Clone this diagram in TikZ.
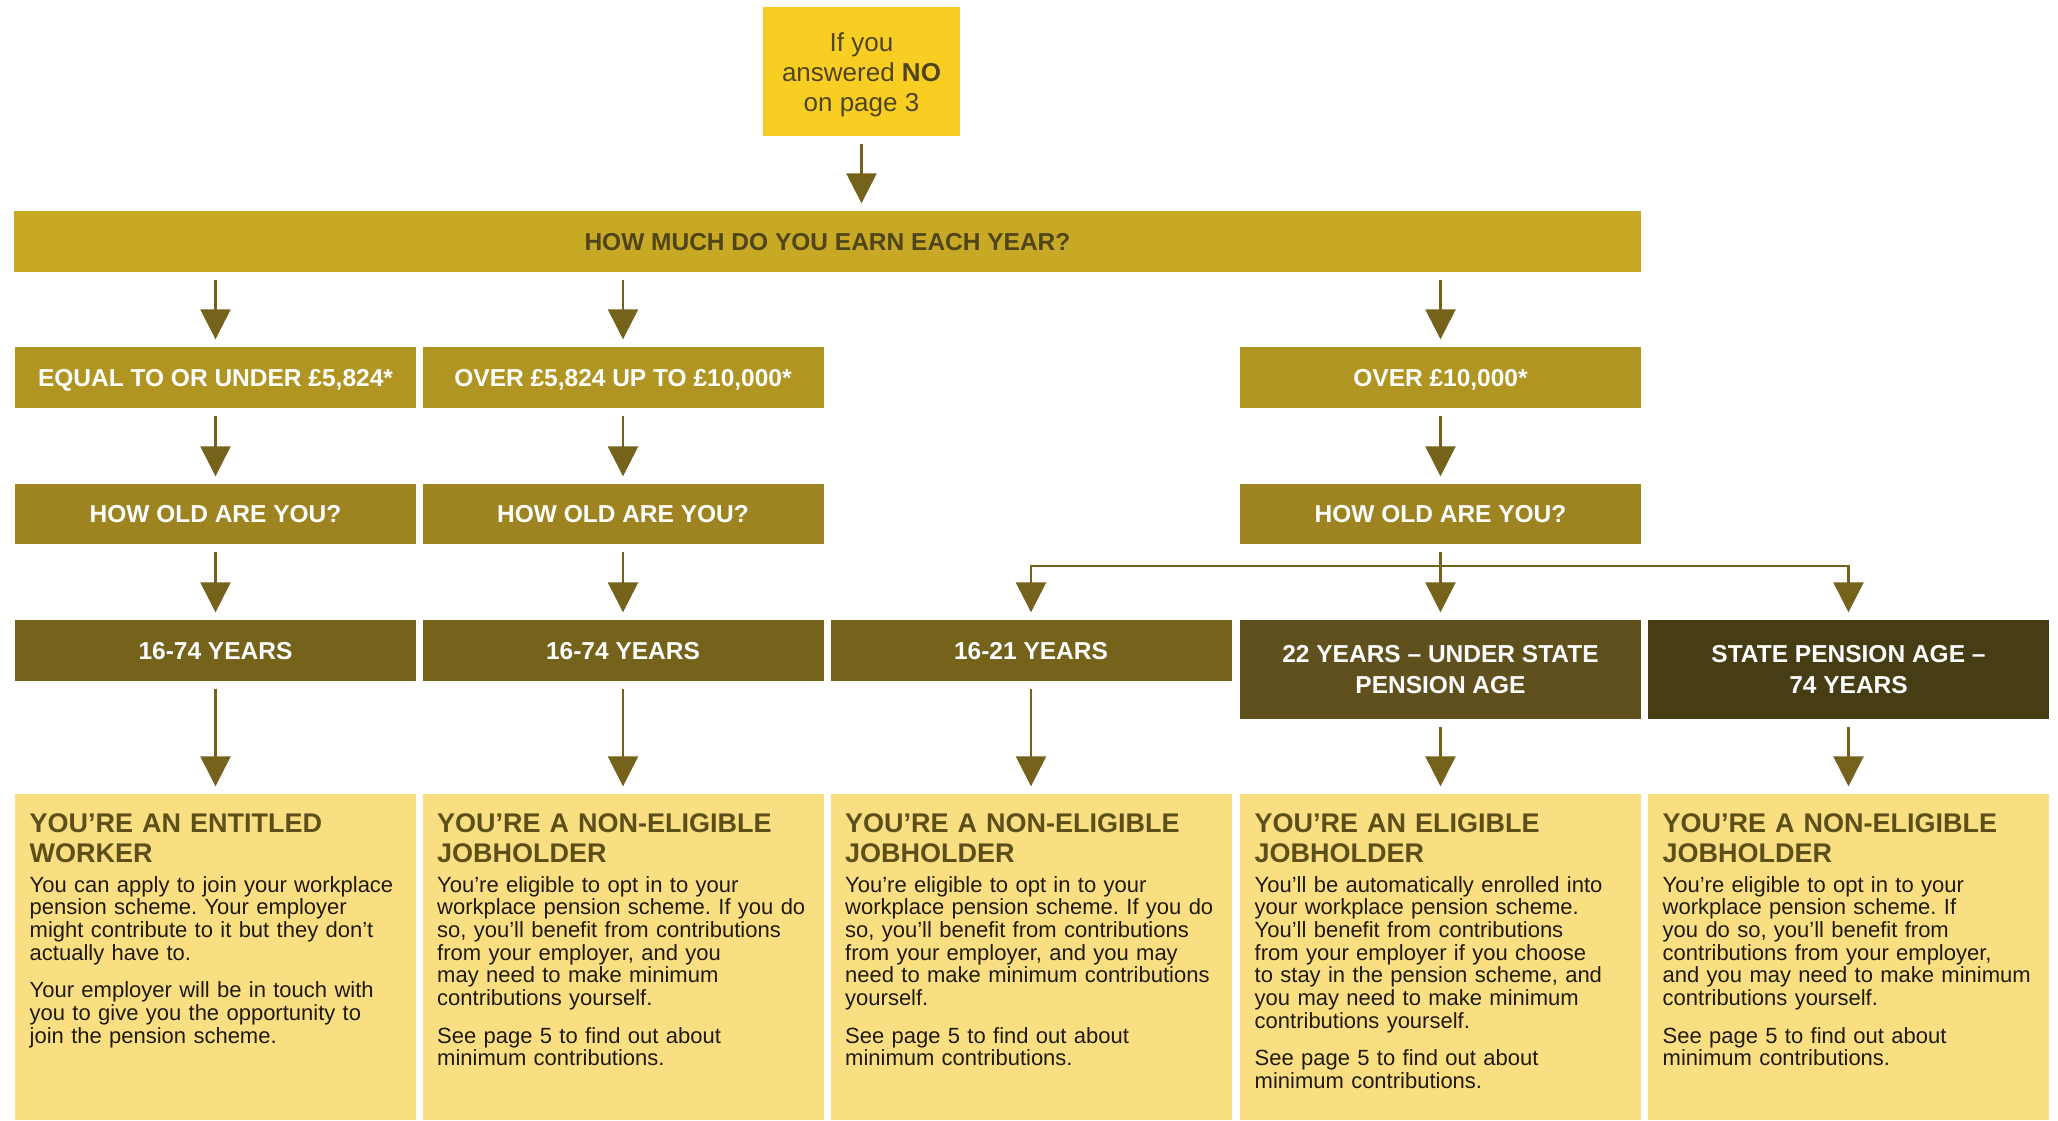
\documentclass[tikz,border=0pt]{standalone}
\usepackage{fontspec}
\setmainfont{Liberation Sans}
\usetikzlibrary{arrows.meta}
\frenchspacing
\definecolor{cTop}{HTML}{F9CE22}
\definecolor{cEarn}{HTML}{C8A925}
\definecolor{cInc}{HTML}{B19522}
\definecolor{cOld}{HTML}{9D8421}
\definecolor{cYa}{HTML}{75621B}
\definecolor{cYb}{HTML}{5F501D}
\definecolor{cYc}{HTML}{473D14}
\definecolor{cRes}{HTML}{FADF82}
\definecolor{cTitle}{HTML}{5C4F1A}
\definecolor{cBody}{HTML}{1F1A10}
\definecolor{cDark}{HTML}{4F4519}
\definecolor{cArr}{HTML}{75621B}
\newcommand\hdfont{\fontsize{24.5}{31}\selectfont\bfseries\frenchspacing}
\begin{document}
\begin{tikzpicture}[x=1pt,y=-1pt,
  hbox/.style={rectangle, inner sep=0pt, minimum width=401pt, text=white, font=\hdfont, align=center},
  oneline/.style={text height=17.5pt, text depth=0pt},
  resbox/.style={rectangle, inner sep=0pt, minimum width=401pt, minimum height=326pt, fill=cRes},
  ttl/.style={inner sep=0pt, text width=380pt, align=left, text=cTitle, font=\fontsize{27}{30}\selectfont\bfseries\frenchspacing, anchor=base west},
  bdy/.style={inner sep=0pt, text width=380pt, align=left, text=cBody, font=\fontsize{22}{22.7}\selectfont\frenchspacing, anchor=base west},
  arr/.style={draw=cArr, line width=2.6pt, -{Triangle[width=30pt,length=30pt]}, shorten <=7.5pt, shorten >=7.5pt},
  plainline/.style={draw=cArr, line width=2.6pt, line cap=rect}
]
\useasboundingbox (0,0) rectangle (2058,1120);

% top
\node[rectangle, inner sep=0pt, fill=cTop, minimum width=197pt, minimum height=129pt] (top) at (861.5,71.5) {};
\node[inner sep=0pt, text=cDark, font=\fontsize{26}{30}\selectfont, align=center] (toptxt) at (861.5,75) {If you\\answered \textbf{NO}\\on page 3};
\node[rectangle, inner sep=0pt, fill=cEarn, minimum width=1627pt, minimum height=61pt, text=cDark,
      font=\hdfont, oneline] (earn) at (827.5,241.5) {HOW MUCH DO YOU EARN EACH YEAR?};

% row 1
\node[hbox, oneline, fill=cInc, minimum height=61pt] (r1a) at (215.5,377.5) {EQUAL TO OR UNDER £5,824*};
\node[hbox, oneline, fill=cInc, minimum height=61pt] (r1b) at (623,377.5) {OVER £5,824 UP TO £10,000*};
\node[hbox, oneline, fill=cInc, minimum height=61pt] (r1d) at (1440.5,377.5) {OVER £10,000*};

% row 2
\node[hbox, oneline, fill=cOld, minimum height=60pt] (r2a) at (215.5,514) {HOW OLD ARE YOU?};
\node[hbox, oneline, fill=cOld, minimum height=60pt] (r2b) at (623,514) {HOW OLD ARE YOU?};
\node[hbox, oneline, fill=cOld, minimum height=60pt] (r2d) at (1440.5,514) {HOW OLD ARE YOU?};

% row 3
\node[hbox, oneline, fill=cYa, minimum height=61pt] (r3a) at (215.5,650.5) {16-74 YEARS};
\node[hbox, oneline, fill=cYa, minimum height=61pt] (r3b) at (623,650.5) {16-74 YEARS};
\node[hbox, oneline, fill=cYa, minimum height=61pt] (r3c) at (1031,650.5) {16-21 YEARS};
\node[hbox, fill=cYb, minimum height=99pt] (r3d) at (1440.5,669.5) {22 YEARS -- UNDER STATE\\PENSION AGE};
\node[hbox, fill=cYc, minimum height=99pt] (r3e) at (1848.5,669.5) {STATE PENSION AGE --\\74 YEARS};

% result boxes
\node[resbox] (b1) at (215.5,957) {};
\node[resbox] (b2) at (623,957) {};
\node[resbox] (b3) at (1031,957) {};
\node[resbox] (b4) at (1440.5,957) {};
\node[resbox] (b5) at (1848.5,957) {};

% result texts
\node[ttl] (t1) at (29.5,832) {YOU’RE AN ENTITLED\\WORKER};
\node[bdy] (p1) at (29.5,892) {You can apply to join your workplace\\pension scheme. Your employer\\might contribute to it but they don’t\\actually have to.\\[15pt]Your employer will be in touch with\\you to give you the opportunity to\\join the pension scheme.};

\node[ttl] (t2) at (437,832) {YOU’RE A NON-ELIGIBLE\\JOBHOLDER};
\node[bdy] (p2) at (437,892) {You’re eligible to opt in to your\\workplace pension scheme. If you do\\so, you’ll benefit from contributions\\from your employer, and you\\may need to make minimum\\contributions yourself.\\[15pt]See page 5 to find out about\\minimum contributions.};

\node[ttl] (t3) at (845,832) {YOU’RE A NON-ELIGIBLE\\JOBHOLDER};
\node[bdy] (p3) at (845,892) {You’re eligible to opt in to your\\workplace pension scheme. If you do\\so, you’ll benefit from contributions\\from your employer, and you may\\need to make minimum contributions\\yourself.\\[15pt]See page 5 to find out about\\minimum contributions.};

\node[ttl] (t4) at (1254.5,832) {YOU’RE AN ELIGIBLE\\JOBHOLDER};
\node[bdy] (p4) at (1254.5,892) {You’ll be automatically enrolled into\\your workplace pension scheme.\\You’ll benefit from contributions\\from your employer if you choose\\to stay in the pension scheme, and\\you may need to make minimum\\contributions yourself.\\[15pt]See page 5 to find out about\\minimum contributions.};

\node[ttl] (t5) at (1662.5,832) {YOU’RE A NON-ELIGIBLE\\JOBHOLDER};
\node[bdy] (p5) at (1662.5,892) {You’re eligible to opt in to your\\workplace pension scheme. If\\you do so, you’ll benefit from\\contributions from your employer,\\and you may need to make minimum\\contributions yourself.\\[15pt]See page 5 to find out about\\minimum contributions.};

% arrows
\draw[arr] (top.south) -- (top.south |- earn.north);
\draw[arr] (r1a.north |- earn.south) -- (r1a.north);
\draw[arr] (r1b.north |- earn.south) -- (r1b.north);
\draw[arr] (r1d.north |- earn.south) -- (r1d.north);
\draw[arr] (r1a.south) -- (r2a.north);
\draw[arr] (r1b.south) -- (r2b.north);
\draw[arr] (r1d.south) -- (r2d.north);
\draw[arr] (r2a.south) -- (r3a.north);
\draw[arr] (r2b.south) -- (r3b.north);
\draw[arr] (r2d.south) -- (r3d.north);
\coordinate (br) at (1440.5,566);
\draw[plainline] (r3c.north |- br) -- (r3e.north |- br);
\draw[arr, shorten <=0pt] (r3c.north |- br) -- (r3c.north);
\draw[arr, shorten <=0pt] (r3e.north |- br) -- (r3e.north);
\draw[arr] (r3a.south) -- (b1.north);
\draw[arr] (r3b.south) -- (b2.north);
\draw[arr] (r3c.south) -- (b3.north);
\draw[arr] (r3d.south) -- (b4.north);
\draw[arr] (r3e.south) -- (b5.north);
\end{tikzpicture}
\end{document}
